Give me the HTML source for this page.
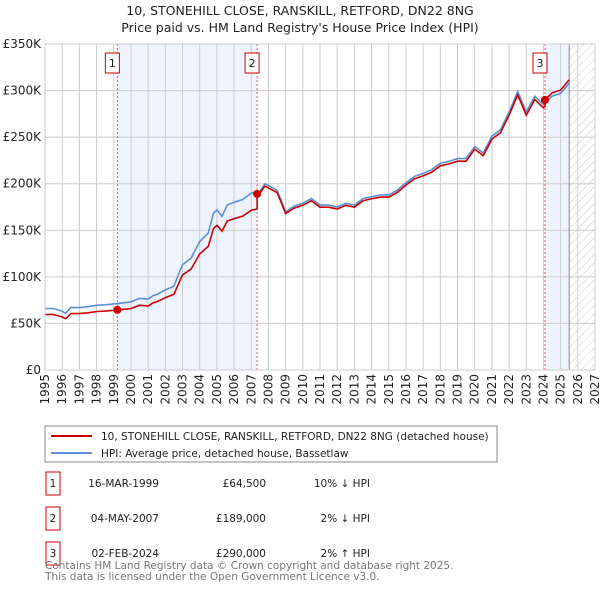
<!DOCTYPE html>
<html><head><meta charset="utf-8"><style>
body{margin:0;background:#fff;width:600px;height:590px;overflow:hidden;font-family:"Liberation Sans","DejaVu Sans",sans-serif}
svg text{font-family:"DejaVu Sans","Liberation Sans",sans-serif}
</style></head><body>
<svg id="chart" width="600" height="590" xmlns="http://www.w3.org/2000/svg">
<defs><pattern id="hatch" width="6" height="6" patternUnits="userSpaceOnUse" patternTransform="rotate(45)"><line x1="0" y1="0" x2="0" y2="6" stroke="#bbb" stroke-width="0.8"/></pattern></defs>
<text x="300" y="15" text-anchor="middle" font-size="12.5" fill="#222">10, STONEHILL CLOSE, RANSKILL, RETFORD, DN22 8NG</text>
<text x="300" y="32" text-anchor="middle" font-size="12.5" fill="#222">Price paid vs. HM Land Registry's House Price Index (HPI)</text>
<g id="plot"></g>
<rect x="45" y="426" width="452" height="36" fill="#fff" stroke="#888"/>
<line x1="51" y1="436" x2="92" y2="436" stroke="#cc0000" stroke-width="2"/>
<text x="101" y="440" font-size="10.5" fill="#222">10, STONEHILL CLOSE, RANSKILL, RETFORD, DN22 8NG (detached house)</text>
<line x1="51" y1="453" x2="92" y2="453" stroke="#5b8fd6" stroke-width="2"/>
<text x="101" y="457" font-size="10.5" fill="#222">HPI: Average price, detached house, Bassetlaw</text>
<g id="table" font-size="10.5" fill="#222"></g>
<text x="45" y="569" font-size="10.5" fill="#777">Contains HM Land Registry data © Crown copyright and database right 2025.</text>
<text x="45" y="580" font-size="10.5" fill="#777">This data is licensed under the Open Government Licence v3.0.</text>
</svg>
<script>
const hpiDates=[1995,1995.5,1996,1996.2,1996.5,1997,1997.5,1998,1998.5,1999,1999.5,2000,2000.5,2001,2001.3,2001.5,2002,2002.5,2003,2003.5,2004,2004.5,2004.8,2005,2005.3,2005.6,2006,2006.5,2007,2007.5,2007.8,2008,2008.5,2008.7,2009,2009.5,2010,2010.5,2011,2011.5,2012,2012.5,2013,2013.5,2014,2014.5,2015,2015.5,2016,2016.5,2017,2017.5,2018,2018.5,2019,2019.5,2020,2020.5,2021,2021.5,2022,2022.5,2023,2023.5,2024,2024.5,2025,2025.5];
const hpiValues=[66,66,63,61,67,67,68,69.5,70,71,72,73,77,76,80,81,86,90,113,120,138,147,168,172,165,177,180,183,190,192,200,198,193,184,170,176,179,184,177,177,175,179,177,184,186,188,188,193,201,208,211,215,222,224,227,227,240,233,251,258,277,299,277,294,285,294,297,308];
const saleDates=[1999.21,2007.34,2024.09];
const salePrices=[64.5,189,290];
const saleLabels=["1","2","3"];
const saleDateText=["16-MAR-1999","04-MAY-2007","02-FEB-2024"];
const salePriceText=["£64,500","£189,000","£290,000"];
const saleHpiText=["10% ↓ HPI","2% ↓ HPI","2% ↑ HPI"];
const yTicks=[0,50,100,150,200,250,300,350];
const yTickLabels=["£0","£50K","£100K","£150K","£200K","£250K","£300K","£350K"];
const xYears=[1995,1996,1997,1998,1999,2000,2001,2002,2003,2004,2005,2006,2007,2008,2009,2010,2011,2012,2013,2014,2015,2016,2017,2018,2019,2020,2021,2022,2023,2024,2025,2026,2027];
const dataEnd=2025.5;

const NS="http://www.w3.org/2000/svg";
const L=45,R=595,T=44,B=370;
const xs=y=>L+(y-1995)/(2027-1995)*(R-L);
const ys=v=>B-v/350*(B-T);
const plot=document.getElementById('plot');
function mk(tag,attrs,parent){const e=document.createElementNS(NS,tag);for(const k in attrs)e.setAttribute(k,attrs[k]);(parent||plot).appendChild(e);return e;}
function hpiAt(d){for(let i=1;i<hpiDates.length;i++){if(d<=hpiDates[i]){const t=(d-hpiDates[i-1])/(hpiDates[i]-hpiDates[i-1]);return hpiValues[i-1]+t*(hpiValues[i]-hpiValues[i-1]);}}return hpiValues[hpiValues.length-1];}

let e;
e=mk('rect',{x:xs(saleDates[0]),y:T,width:xs(saleDates[1])-xs(saleDates[0]),height:B-T,fill:'#eef3fd'});


e=mk('rect',{x:xs(saleDates[2]),y:T,width:xs(dataEnd)-xs(saleDates[2]),height:B-T,fill:'#eef3fd'});


e=mk('rect',{x:xs(dataEnd),y:T,width:R-xs(dataEnd),height:B-T,fill:'url(#hatch)'});


yTicks.forEach((v,i)=>{
 e=mk('line',{x1:L,x2:R,y1:ys(v),y2:ys(v),stroke:'#ccc','stroke-width':1});
 
 
 e=mk('text',{x:L-4,y:ys(v)+4,'text-anchor':'end','font-size':12,fill:'#222'});e.textContent=yTickLabels[i];
 
 
});
xYears.forEach(y=>{
 e=mk('line',{x1:xs(y),x2:xs(y),y1:T,y2:B,stroke:'#ccc','stroke-width':1});
 
 
 e=mk('text',{x:0,y:0,'text-anchor':'end','font-size':12,fill:'#222',transform:`translate(${xs(y)+4},374) rotate(-90)`});e.textContent=y;
 
 
});
e=mk('line',{x1:xs(dataEnd),x2:xs(dataEnd),y1:T,y2:B,stroke:'#888','stroke-width':1});


saleDates.forEach((d,i)=>{
 e=mk('line',{x1:xs(d),x2:xs(d),y1:T,y2:B,stroke:'#e55','stroke-width':1,'stroke-dasharray':'2,2'});
 
 
});
let p='';hpiDates.forEach((d,i)=>{p+=(i?'L':'M')+xs(d).toFixed(1)+','+ys(hpiValues[i]).toFixed(1);});
e=mk('path',{d:p,fill:'none',stroke:'#5b8fd6','stroke-width':1.6});


const ratios=saleDates.map((d,i)=>salePrices[i]/hpiAt(d));
function ratioAt(d){let r=ratios[0];saleDates.forEach((s,i)=>{if(d>=s)r=ratios[i];});return r;}
const pts=[];hpiDates.forEach((d,i)=>{
 saleDates.forEach((s,j)=>{if(i>0&&hpiDates[i-1]<s&&d>=s){pts.push([s,hpiAt(s)*ratios[Math.max(0,j-1)]]);pts.push([s,salePrices[j]]);}});
 pts.push([d,hpiValues[i]*ratioAt(d)]);
});
p='';pts.forEach((q,i)=>{p+=(i?'L':'M')+xs(q[0]).toFixed(1)+','+ys(q[1]).toFixed(1);});
e=mk('path',{d:p,fill:'none',stroke:'#cc0000','stroke-width':1.6});


e=mk('rect',{x:L,y:T,width:R-L,height:B-T,fill:'none',stroke:'#ccc'});


saleDates.forEach((d,i)=>{
 e=mk('circle',{cx:xs(d),cy:ys(salePrices[i]),r:4,fill:'#cc0000'});
 
 
 e=mk('rect',{x:xs(d)-12,y:53,width:14,height:20,fill:'#fff',stroke:'#cc0000'});
 
 
 e=mk('text',{x:xs(d)-5,y:67,'text-anchor':'middle','font-size':11,fill:'#222'});e.textContent=saleLabels[i];
 
 
});
const tb=document.getElementById('table');
saleDates.forEach((d,i)=>{
 const cy=483+i*35;
 e=mk('rect',{x:46,y:cy-11,width:14,height:23,fill:'#fff',stroke:'#cc0000'},tb);
 
 
 e=mk('text',{x:53,y:cy+4,'text-anchor':'middle'},tb);e.textContent=saleLabels[i];
 
 
 e=mk('text',{x:159,y:cy+4,'text-anchor':'end'},tb);e.textContent=saleDateText[i];
 
 
 e=mk('text',{x:266,y:cy+4,'text-anchor':'end'},tb);e.textContent=salePriceText[i];
 
 
 e=mk('text',{x:370,y:cy+4,'text-anchor':'end'},tb);e.textContent=saleHpiText[i];
 
 
});
</script>
</body></html>
